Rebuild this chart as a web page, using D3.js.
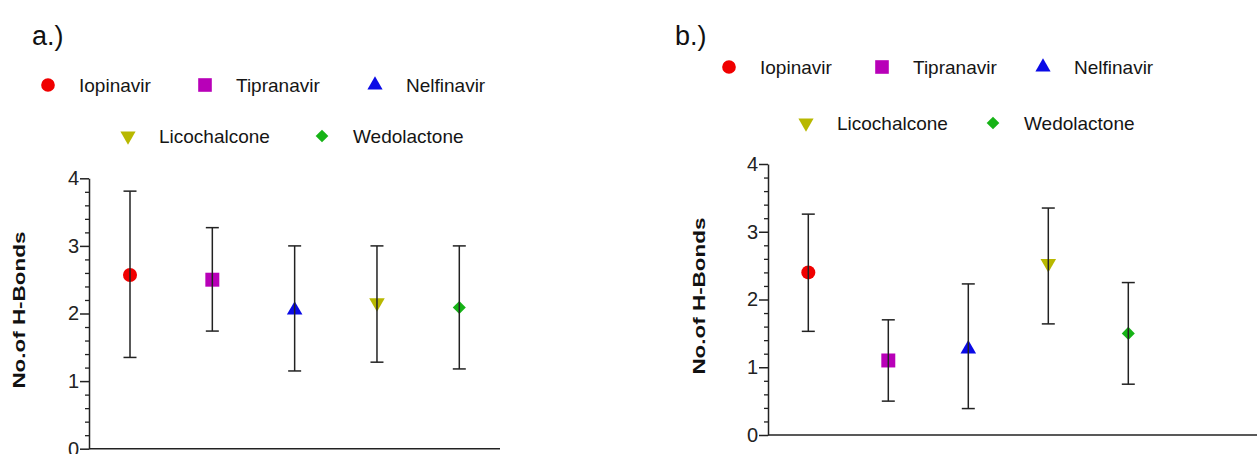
<!DOCTYPE html>
<html>
<head>
<meta charset="utf-8">
<script src="https://cdn.jsdelivr.net/npm/d3@7"></script>
<style>
  body { margin: 0; background: #fff; }
  text { font-family: "Liberation Sans", Arial, sans-serif; }
</style>
</head>
<body>
<div id="chart"></div>
<script>
// data
var drugs = ["Iopinavir", "Tipranavir", "Nelfinavir", "Licochalcone", "Wedolactone"];
var colors = ["#f00000", "#b800b8", "#0a0ae6", "#b8b800", "#16b316"];

var meanA = [2.57, 2.50, 2.05, 2.16, 2.09];
var lowA  = [1.35, 1.74, 1.15, 1.28, 1.18];
var highA = [3.81, 3.27, 3.00, 3.00, 3.00];

var meanB = [2.40, 1.10, 1.27, 2.53, 1.50];
var lowB  = [1.53, 0.50, 0.39, 1.64, 0.75];
var highB = [3.26, 1.70, 2.23, 3.35, 2.25];

var yTicks = [0, 1, 2, 3, 4];
var yTitle = "No.of H-Bonds";

var width = 1257, height = 454;

var svg = d3.select("#chart")
  .append("svg")
    .attr("width", width)
    .attr("height", height);

var symbolTypes = [d3.symbolCircle, d3.symbolSquare, d3.symbolTriangle, d3.symbolTriangle, d3.symbolSquare];
var symbolSizes = [155, 195, 105, 105, 85];
var symbolRot = [0, 0, 0, 180, 45];

function marker(g, i, x, y, scale) {
  g.append("path")
    .attr("d", d3.symbol().type(symbolTypes[i]).size(symbolSizes[i] * (scale || 1))())
    .attr("transform", "translate(" + x + "," + y + ") rotate(" + symbolRot[i] + ")")
    .attr("fill", colors[i]);
}

var panels = [
  { label: "a.)", labelX: 32, mean: meanA, low: lowA, high: highA,
    axisX: 89, right: 500, y0: 448.7, y4: 178.3, p0: 130, p1: 459.3,
    titleX: 19, legRows: [{y: 85, xs: [48, 205, 375]}, {y: 136, xs: [128, 322]}] },
  { label: "b.)", labelX: 675, mean: meanB, low: lowB, high: highB,
    axisX: 768, right: 1260, y0: 435, y4: 164, p0: 808.3, p1: 1128.3,
    titleX: 699, legRows: [{y: 67, xs: [729, 882, 1043]}, {y: 123, xs: [806, 993]}] }
];

panels.forEach(function(p) {
  var g = svg.append("g");

  var x = d3.scalePoint().domain(drugs).range([p.p0, p.p1]);
  var y = d3.scaleLinear().domain([0, 4]).range([p.y0, p.y4]);

  // panel label
  g.append("text")
    .attr("x", p.labelX).attr("y", 45)
    .attr("font-size", 27)
    .attr("font-family", "'Open Sans', sans-serif")
    .attr("fill", "#111")
    .text(p.label);

  // legend
  var k = 0;
  p.legRows.forEach(function(row) {
    row.xs.forEach(function(sx) {
      marker(g, k, sx, row.y, 0.95);
      g.append("text")
        .attr("x", sx + 31).attr("y", row.y)
        .attr("dy", "0.35em")
        .attr("font-size", 19)
        .attr("fill", "#151515")
        .text(drugs[k]);
      k++;
    });
  });

  // minor ticks
  var minor = d3.range(0, 4.01, 0.2).filter(function(v) { return Math.abs(v - Math.round(v)) > 0.01; });
  g.append("g")
    .attr("transform", "translate(" + p.axisX + ",0)")
    .call(d3.axisLeft(y).tickValues(minor).tickSize(4).tickFormat(""))
    .call(function(a) { a.select(".domain").remove(); })
    .selectAll("line").attr("stroke", "#222").attr("stroke-width", 1.3);

  // Y axis
  var ya = g.append("g")
    .attr("transform", "translate(" + p.axisX + ",0)")
    .call(d3.axisLeft(y).tickValues(yTicks).tickSize(9).tickPadding(1).tickSizeOuter(0).tickFormat(d3.format("d")));
  ya.select(".domain").attr("stroke", "#222").attr("stroke-width", 1.5);
  ya.selectAll("line").attr("stroke", "#222").attr("stroke-width", 1.5);
  ya.selectAll("text")
    .attr("font-size", 20)
    .attr("font-family", "'Liberation Sans', Arial, sans-serif")
    .attr("fill", "#222");

  // X axis line
  g.append("line")
    .attr("x1", p.axisX).attr("x2", p.right)
    .attr("y1", y(0)).attr("y2", y(0))
    .attr("stroke", "#222").attr("stroke-width", 1.6);

  // axis title
  g.append("text")
    .attr("transform", "translate(" + p.titleX + "," + (y(2.05)) + ") rotate(-90)")
    .attr("text-anchor", "middle")
    .attr("dy", "0.35em")
    .attr("font-size", 16)
    .attr("font-weight", "bold")
    .attr("textLength", 157)
    .attr("lengthAdjust", "spacingAndGlyphs")
    .attr("fill", "#111")
    .text(yTitle);

  // markers
  drugs.forEach(function(d, i) {
    marker(g, i, x(d), y(p.mean[i]));
  });

  // error bars drawn on top
  drugs.forEach(function(d, i) {
    var cx = x(d);
    g.append("line")
      .attr("x1", cx).attr("x2", cx)
      .attr("y1", y(p.low[i])).attr("y2", y(p.high[i]))
      .attr("stroke", "#222").attr("stroke-width", 1.5);
    [p.low[i], p.high[i]].forEach(function(v) {
      g.append("line")
        .attr("x1", cx - 6.5).attr("x2", cx + 6.5)
        .attr("y1", y(v)).attr("y2", y(v))
        .attr("stroke", "#222").attr("stroke-width", 1.5);
    });
  });
});
</script>
</body>
</html>
